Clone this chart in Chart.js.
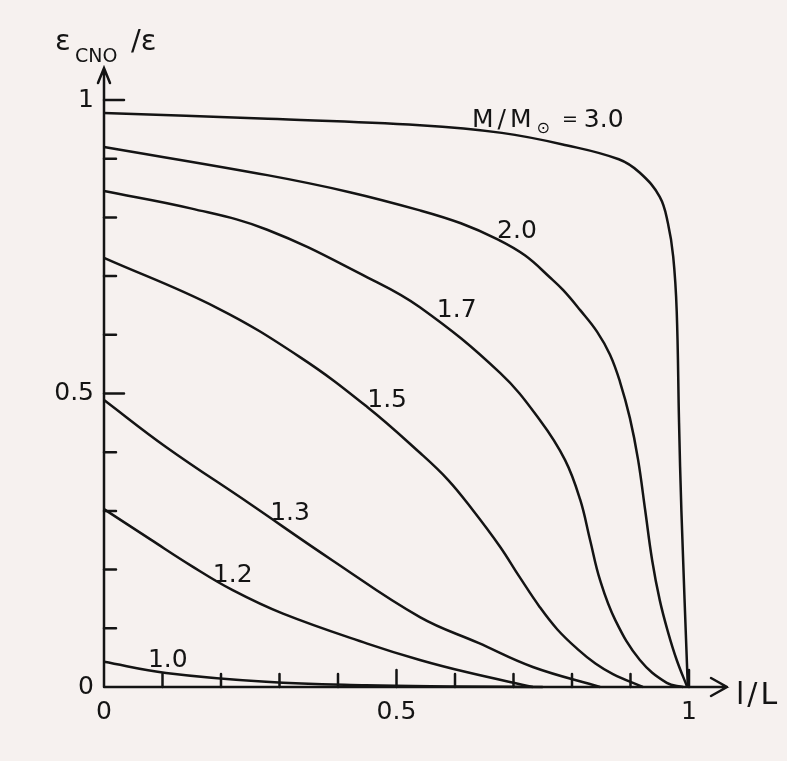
<!DOCTYPE html>
<html>
<head>
<meta charset="utf-8">
<script src="https://cdn.jsdelivr.net/npm/chart.js@4"></script>
<style>
  html, body { margin: 0; padding: 0; background: #f6f1ef; }
  canvas { display: block; }
</style>
</head>
<body>
<canvas id="cnoChart" width="787" height="761"></canvas>
<script>
// fraction of luminosity l/L (x) and eps_CNO/eps (y), one pair per stellar mass
const masses = ['3.0', '2.0', '1.7', '1.5', '1.3', '1.2', '1.0'];

const pos30 = [0, 0.28, 0.54, 0.68, 0.79, 0.88, 0.916, 0.95, 0.964, 0.973, 0.979, 0.983, 0.987, 0.998];
const eps30 = [0.978, 0.968, 0.957, 0.944, 0.923, 0.899, 0.876, 0.835, 0.79, 0.733, 0.64, 0.45, 0.30, 0];

const pos20 = [0, 0.279, 0.42, 0.54, 0.61, 0.672, 0.72, 0.762, 0.785, 0.814, 0.843, 0.865, 0.882, 0.899, 0.913, 0.925, 0.937, 0.95, 0.964, 0.979, 0.997];
const eps20 = [0.920, 0.872, 0.843, 0.812, 0.790, 0.763, 0.735, 0.698, 0.676, 0.642, 0.605, 0.566, 0.520, 0.458, 0.387, 0.302, 0.216, 0.148, 0.094, 0.046, 0];

const pos17 = [0, 0.15, 0.279, 0.45, 0.54, 0.677, 0.745, 0.788, 0.814, 0.831, 0.848, 0.874, 0.916, 0.962, 0.99];
const eps17 = [0.845, 0.815, 0.779, 0.698, 0.647, 0.535, 0.455, 0.387, 0.319, 0.250, 0.182, 0.114, 0.046, 0.007, 0];

const pos15 = [0, 0.193, 0.335, 0.45, 0.54, 0.588, 0.63, 0.677, 0.71, 0.745, 0.775, 0.809, 0.84, 0.87, 0.921];
const eps15 = [0.731, 0.646, 0.562, 0.477, 0.399, 0.353, 0.302, 0.239, 0.188, 0.136, 0.098, 0.065, 0.040, 0.022, 0];

const pos13 = [0, 0.106, 0.248, 0.39, 0.54, 0.64, 0.733, 0.848];
const eps13 = [0.489, 0.409, 0.313, 0.216, 0.119, 0.075, 0.034, 0];

const pos12 = [0, 0.08, 0.15, 0.22, 0.306, 0.45, 0.54, 0.621, 0.733];
const eps12 = [0.303, 0.251, 0.206, 0.165, 0.125, 0.074, 0.046, 0.025, 0];

const pos10 = [0, 0.106, 0.277, 0.448, 0.6, 0.75];
const eps10 = [0.043, 0.024, 0.009, 0.003, 0.001, 0];

// where each curve's label sits (left end of text baseline, in data units)
const labelAt = [[0.629, 0.954], [0.672, 0.765], [0.569, 0.630], [0.450, 0.477], [0.284, 0.285], [0.186, 0.179], [0.075, 0.034]];

const xTicks = [0, 0.5, 1];
const yTicks = [0, 0.5, 1];

const ink = '#141414';
const face = "'DejaVu Sans', sans-serif";

const series = [[pos30, eps30], [pos20, eps20], [pos17, eps17], [pos15, eps15], [pos13, eps13], [pos12, eps12], [pos10, eps10]];

const datasets = series.map(([xs, ys], i) => ({
  label: masses[i],
  data: xs.map((v, k) => ({ x: v, y: ys[k] })),
  borderColor: ink,
  borderWidth: 2.5,
  pointRadius: 0,
  tension: 0.4,
  fill: false,
  clip: false
}));

const figure = {
  id: 'figure',
  beforeDraw(chart) {
    const c = chart.ctx;
    c.save();
    c.fillStyle = '#f6f1ef';
    c.fillRect(0, 0, chart.width, chart.height);
    c.restore();
  },
  afterDraw(chart) {
    const c = chart.ctx;
    const { x, y } = chart.scales;
    const x0 = x.getPixelForValue(0), x1 = x.getPixelForValue(1);
    const y0 = y.getPixelForValue(0), y1 = y.getPixelForValue(1);

    c.save();
    c.strokeStyle = ink;
    c.fillStyle = ink;
    c.lineWidth = 2.5;
    c.lineCap = 'round';

    // axes with arrows
    c.beginPath();
    c.moveTo(x0, y0); c.lineTo(x0, y1 - 32);
    c.moveTo(x0 - 6, y1 - 17); c.lineTo(x0, y1 - 32); c.lineTo(x0 + 6, y1 - 17);
    c.moveTo(x0, y0); c.lineTo(x1 + 38, y0);
    c.moveTo(x1 + 22, y0 - 9); c.lineTo(x1 + 38, y0); c.lineTo(x1 + 22, y0 + 9);
    c.stroke();

    // inner tick marks every 0.1
    c.beginPath();
    for (let k = 1; k <= 10; k++) {
      const v = k / 10;
      const major = k === 5 || k === 10;
      const py = y.getPixelForValue(v);
      c.moveTo(x0, py); c.lineTo(x0 + (major ? 20 : 12), py);
      const px = x.getPixelForValue(v);
      c.moveTo(px, y0); c.lineTo(px, y0 - (major ? 17 : 13));
    }
    c.stroke();

    // curve labels
    c.textBaseline = 'alphabetic';
    c.textAlign = 'left';
    labelAt.forEach(([lx, ly], i) => {
      let px = x.getPixelForValue(lx);
      const py = y.getPixelForValue(ly);
      c.font = '25px ' + face;
      if (i === 0) {
        c.letterSpacing = '4px';
        c.fillText('M/M', px, py);
        px += c.measureText('M/M').width + 1;
        c.letterSpacing = '0px';
        c.font = '16px ' + face;
        c.fillText('\u2299', px, py + 6);
        px += c.measureText('\u2299').width + 12;
        c.font = '19px ' + face;
        c.fillText('=', px, py - 2);
        px += c.measureText('=').width + 6;
        c.font = '25px ' + face;
        c.fillText(masses[0], px, py);
      } else {
        c.fillText(masses[i], px, py);
      }
    });

    // axis titles
    c.font = '30px ' + face;
    c.letterSpacing = '3px';
    c.fillText('l/L', x1 + 47, y0 + 17);
    c.letterSpacing = '0px';
    c.font = '29px ' + face;
    c.fillText('\u03b5', x0 - 49, y1 - 50);
    c.font = '19px ' + face;
    c.fillText('CNO', x0 - 29, y1 - 38);
    c.font = '29px ' + face;
    c.fillText('/\u03b5', x0 + 27, y1 - 50);
    c.restore();
  }
};

new Chart(document.getElementById('cnoChart').getContext('2d'), {
  type: 'line',
  data: { datasets },
  options: {
    responsive: false,
    animation: false,
    devicePixelRatio: 1,
    layout: { padding: { left: 0, top: 100, right: 98, bottom: 34 } },
    plugins: { legend: { display: false }, tooltip: { enabled: false } },
    scales: {
      x: {
        type: 'linear',
        min: 0,
        max: 1,
        afterFit: s => { s.height = 40; },
        afterBuildTicks: s => { s.ticks = xTicks.map(v => ({ value: v })); },
        grid: { display: false },
        border: { display: false },
        ticks: {
          padding: 2,
          color: ink,
          font: { family: face, size: 25 },
          maxRotation: 0,
          callback: v => String(v)
        }
      },
      y: {
        min: 0,
        max: 1,
        afterFit: s => { s.width = 104; },
        afterBuildTicks: s => { s.ticks = yTicks.map(v => ({ value: v })); },
        grid: { display: false },
        border: { display: false },
        ticks: {
          padding: 2,
          color: ink,
          font: { family: face, size: 25 },
          callback: v => String(v)
        }
      }
    }
  },
  plugins: [figure]
});
</script>
</body>
</html>
